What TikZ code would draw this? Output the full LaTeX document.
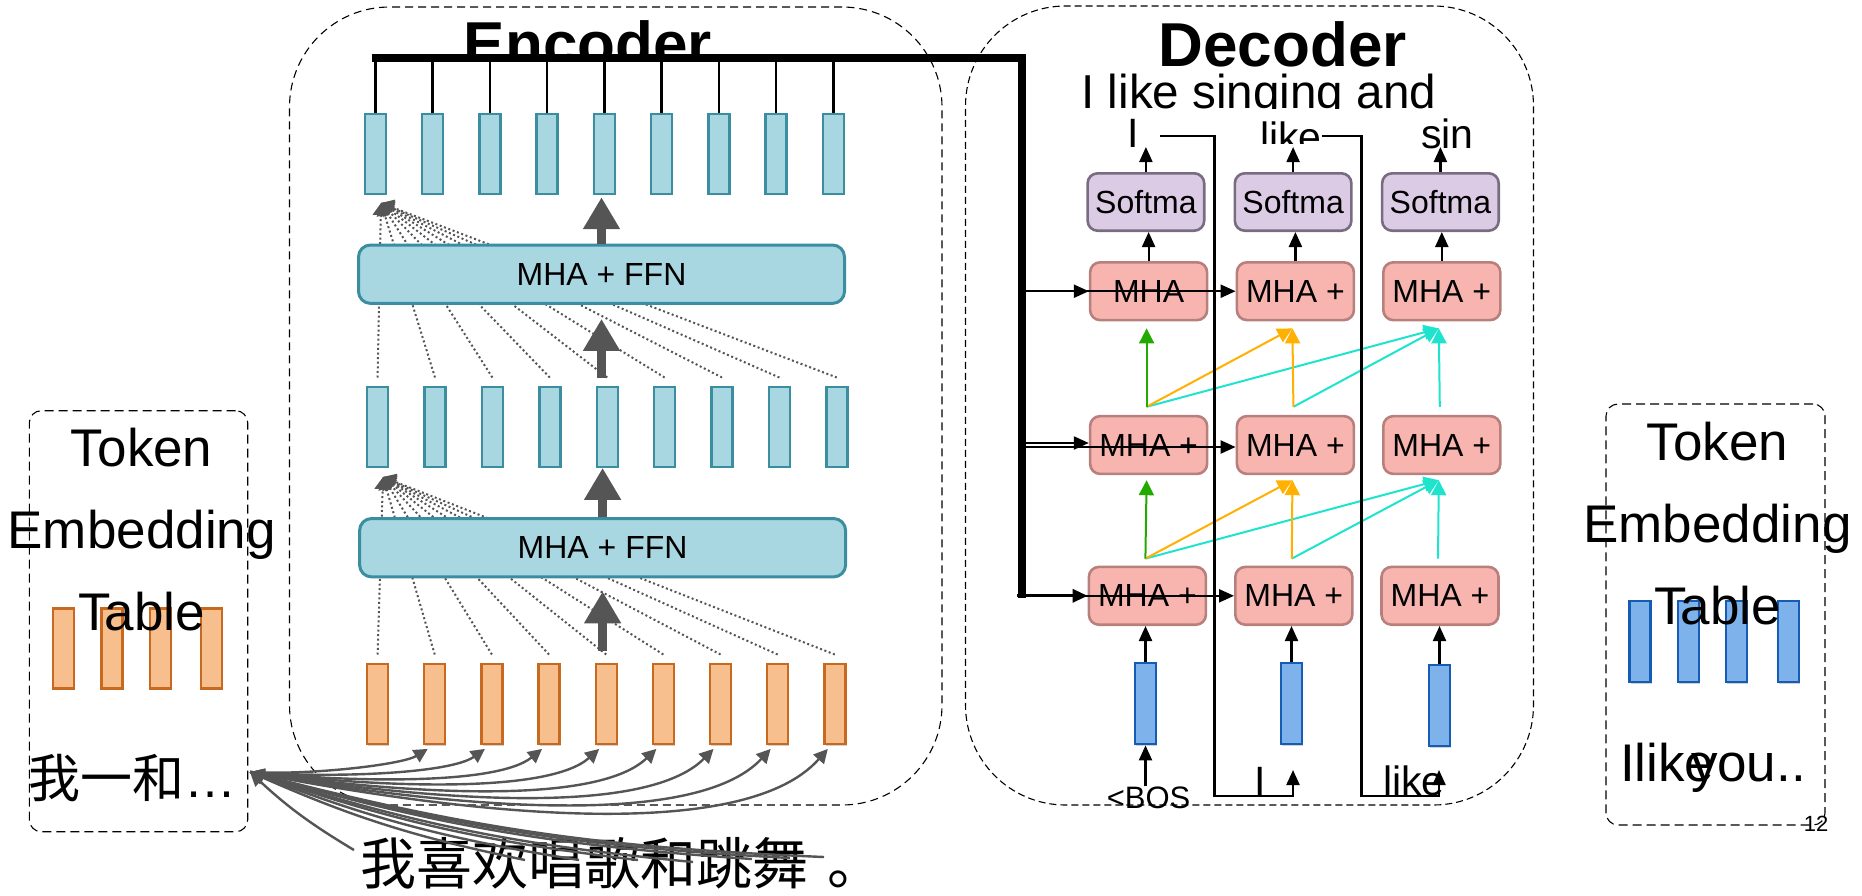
\documentclass[tikz,border=0pt]{standalone}
\usepackage{fontspec}
\setmainfont{Liberation Sans}
\newfontfamily\cjk{Noto Sans CJK SC}
\usetikzlibrary{arrows.meta,calc,shadows}
\newcommand\fsz[1]{\fontsize{#1}{#1}\selectfont}

\definecolor{encfill}{RGB}{168,215,226}
\definecolor{encdraw}{RGB}{58,142,160}
\definecolor{embfill}{RGB}{248,191,142}
\definecolor{embdraw}{RGB}{200,105,32}
\definecolor{decfill}{RGB}{126,178,234}
\definecolor{decdraw}{RGB}{22,92,180}
\definecolor{mhafill}{RGB}{248,181,175}
\definecolor{mhadraw}{RGB}{184,128,124}
\definecolor{smfill}{RGB}{220,203,228}
\definecolor{smdraw}{RGB}{120,108,128}
\definecolor{arrgray}{RGB}{85,85,85}
\definecolor{attgreen}{RGB}{34,170,0}
\definecolor{attorange}{RGB}{255,176,0}
\definecolor{attcyan}{RGB}{30,228,206}

\tikzset{
  grp/.style={draw=black, dash pattern=on 4pt off 2.5pt, line width=0.55pt, rounded corners=50pt, inner sep=0pt},
  tbl/.style={draw=black, dash pattern=on 4.5pt off 2.5pt, line width=0.55pt, rounded corners=6pt, inner sep=0pt},
  barshadow/.style={drop shadow={shadow xshift=0.6pt, shadow yshift=-1pt, opacity=0.18, fill=black}},
  encbar/.style={draw=encdraw, fill=encfill, line width=1.2pt, minimum width=10.5pt, minimum height=40pt, inner sep=0pt},
  embbar/.style={draw=embdraw, fill=embfill, line width=1.2pt, minimum width=10.5pt, minimum height=40pt, inner sep=0pt, barshadow},
  decbar/.style={draw=decdraw, fill=decfill, line width=1.2pt, minimum width=10.5pt, minimum height=40.5pt, inner sep=0pt, barshadow},
  ffn/.style={draw=encdraw, fill=encfill, line width=1.5pt, rounded corners=6pt, minimum width=243pt, minimum height=29.2pt, inner sep=0pt, font=\fsz{16}},
  mha/.style={draw=mhadraw, fill=mhafill, line width=1.3pt, rounded corners=5pt, minimum width=58.5pt, minimum height=28.9pt, inner sep=0pt, font=\fsz{16}},
  sm/.style={draw=smdraw, fill=smfill, line width=1.3pt, rounded corners=5pt, minimum width=58.3pt, minimum height=28.7pt, inner sep=0pt, font=\fsz{16}},
  bigarrow/.style={draw=arrgray, line width=4.3pt, -{Triangle[width=17.5pt,length=16pt]}},
  attn/.style={draw=arrgray, line width=1pt, dash pattern=on 1pt off 1.3pt, -{Triangle[width=8pt,length=6pt]}},
  fan/.style={draw=arrgray, line width=1.2pt, -{Triangle[width=7pt,length=7pt]}},
  blk/.style={draw=black, line width=1.1pt, -{Triangle[width=6.5pt,length=7.5pt]}},
  catt/.style={line width=1pt, -{Triangle[width=7.5pt,length=7.5pt]}},
  txt/.style={inner sep=0pt, outer sep=0pt},
}

\begin{document}
\begin{tikzpicture}[x=0.5pt,y=-0.5pt]
\useasboundingbox (0,0) rectangle (1862,895);

% ---------- group frames ----------
\node[grp, minimum width=326.25pt, minimum height=399pt] (encgrp) at (615.75,406) {};
\node[grp, dash pattern=on 3.5pt off 2pt, minimum width=284pt, minimum height=399.5pt] (decgrp) at (1249.5,405.5) {};
\node[tbl, minimum width=109.2pt, minimum height=210.5pt] (srctbl) at (138.5,621.2) {};
\node[tbl, minimum width=109.5pt, minimum height=210.5pt] (tgttbl) at (1715.5,614.5) {};

% ---------- encoder ----------
\begin{scope}
  \clip (0,0) rectangle (1862,57);
  \node[txt, anchor=base, font=\bfseries\fsz{31}] (enctitle) at (588,65) {Encoder};
\end{scope}

\foreach \k in {1,...,9} {
  \node[encbar] (r1-\k) at ({375.4+57.25*(\k-1)},154) {};
  \node[encbar] (r2-\k) at ({377.6+57.4*(\k-1)},426.7) {};
  \node[embbar] (o\k) at ({377.6+57.15*(\k-1)},703.7) {};
}

% output bus
\coordinate (busL) at (372,58);
\coordinate (busR) at (1022,58);
\coordinate (busB) at (1022,598);
\foreach \k in {1,...,9} \draw[line width=1.2pt] (r1-\k.north) -- (r1-\k.north |- busL);
\draw[line width=4.4pt] (busL) -- (busR) -- (busB);

% attention fans (behind the layer boxes)
\coordinate (apx1) at (381,203);
\coordinate (apx2) at (383,477);
\foreach \k in {1,...,9} {
  \draw[attn] ($(r2-\k.north)+(0,-8)$) -- (apx1);
  \draw[attn] ($(o\k.north)+(0,-8)$) -- (apx2);
}

\node[ffn] (ffn1) at (601.5,274.2) {MHA + FFN};
\node[ffn] (ffn2) at (602.6,547.7) {MHA + FFN};

\draw[bigarrow] (ffn1.north) -- ($(ffn1.north |- r1-5.south)+(0,2)$);
\draw[bigarrow] ($(ffn1.south |- r2-5.north)+(0,-8)$) -- ($(ffn1.south)+(0,14)$);
\draw[bigarrow] (ffn2.north) -- (ffn2.north |- r2-5.south);
\draw[bigarrow] ($(ffn2.south |- o5.north)+(0,-12)$) -- ($(ffn2.south)+(0,13)$);

% ---------- source embedding table ----------
\foreach \k/\x in {1/63.3,2/111.8,3/160.2,4/211.2} \node[embbar] (se\k) at (\x,648.3) {};
\node[txt, anchor=north, align=center, font=\fontsize{26.5}{41}\selectfont] (srclab) at (141.7,428) {Token\\Embedding\\Table};
\node[txt, anchor=base west] (srcseq) at (28,797) {{\cjk\fsz{26}我一和}{\fsz{26}…}};

% source sentence
\node[txt, anchor=base west, font=\cjk\fsz{28}] (zhsent) at (360,884) {我喜欢唱歌和跳舞\hspace{10pt}。};

% lookups
\coordinate (fanapx) at (250,772);
\foreach \k/\ax/\ay/\bx/\by in {2/59.5/3.5/-25.5/15.7, 3/80.9/6.4/-34.7/24.9, 4/103.6/10.6/-44.4/36.1, 5/122/14.7/-52/46.2, 6/143.5/20.3/-61.5/58.9, 7/162.8/26/-69.8/71, 8/181.7/32.5/-77.9/83.8, 9/201.6/40/-86.4/98}
  \draw[fan] (fanapx) .. controls +(\ax,\ay) and +(\bx,\by) .. ($(o\k.south)+(-7,4)$);
\foreach \k/\x/\y in {1/354/850, 2/525/860, 3/579/860, 4/638/860, 5/693/862, 6/752/859, 7/790/858, 8/824/857} {
  \coordinate (zh\k) at (\x,\y);
  \draw[fan] (zh\k) to[bend left=6] (fanapx);
}

% ---------- decoder ----------
\node[txt, anchor=base, font=\bfseries\fsz{31}] (dectitle) at (1282.7,66.7) {Decoder};
\begin{scope}
  \clip (900,70) rectangle (1560,108.5);
  \node[txt, anchor=base west, font=\fsz{23.8}] (outseq) at (1081.5,108) {I like singing and};
\end{scope}
\node[txt, anchor=base, font=\fsz{20.5}] (yI) at (1133,147) {I};
\begin{scope}
  \clip (1200,100) rectangle (1400,143.3);
  \node[txt, anchor=base west, font=\fsz{20.5}] (ylike) at (1260,151) {like};
\end{scope}
\node[txt, anchor=base west, font=\fsz{20.5}] (ysin) at (1421,148.3) {sin};

\foreach \k/\x in {1/1145.9, 2/1293.1, 3/1440.4} \node[sm] (sm\k) at (\x,202) {Softma};
\node[mha] (ma1) at (1148.6,291.2) {MHA};
\node[mha] (ma2) at (1295.4,291.2) {MHA +};
\node[mha] (ma3) at (1441.8,291.2) {MHA +};
\foreach \k/\x in {1/1148.6, 2/1295.4, 3/1441.8} \node[mha] (mb\k) at (\x,445) {MHA +};
\foreach \k/\x in {1/1147.4, 2/1293.8, 3/1440} \node[mha] (mc\k) at (\x,595.8) {MHA +};
\node[decbar] (db1) at (1145.5,703.7) {};
\node[decbar] (db2) at (1291.5,703.7) {};
\node[decbar] (db3) at (1439.5,705.4) {};

\node[txt, anchor=base, font=\fsz{15.5}] (bos) at (1148.6,808) {<BOS};
\node[txt, anchor=base, font=\fsz{20.5}] (xI) at (1260.4,795) {I};
\node[txt, anchor=base west, font=\fsz{20.5}] (xlike) at (1383,795) {like};

% vertical flow
\foreach \k in {1,2,3} {
  \draw[blk] (ma\k.north) -- (ma\k.north |- sm\k.south);
  \draw[blk] (db\k.north) -- (db\k.north |- mc\k.south);
  \draw[blk] (sm\k.north) -- (sm\k.north |- yI.base);
}
\draw[blk] (db1.south |- bos.north) -- (db1.south);

% encoder memory into the decoder layers
\draw[blk] (busB |- ma1.west) -- (ma1.west);
\draw[blk] (busB |- ma2.west) -- (ma2.west);
\draw[blk] ($(busB |- mb1.west)+(0,-2)$) -- ($(mb1.west)+(0,-2)$);
\draw[blk] ($(busB |- mb2.west)+(0,2)$) -- ($(mb2.west)+(0,2)$);
\draw[blk, line width=1.6pt] ($(busB |- mc1.west)+(-5,0)$) -- (mc1.west);
\draw[blk] (busB |- mc2.west) -- (mc2.west);

% causal self-attention between layers
\foreach \lo/\hi/\os/\ts in {b/a/-8/7, c/b/-7/5} {
  \draw[catt, attcyan] ($(m\lo1.north)+(-2,\os)$) -- ($(m\hi3.south)+(-3,\ts)$);
  \draw[catt, attcyan] ($(m\lo2.north)+(-2,\os)$) -- ($(m\hi3.south)+(-3,\ts)$);
  \draw[catt, attcyan] ($(m\lo3.north)+(-2,\os)$) -- ($(m\hi3.south)+(-3,\ts)$);
  \draw[catt, attorange] ($(m\lo1.north)+(-2,\os)$) -- ($(m\hi2.south)+(-3,\ts)$);
  \draw[catt, attorange] ($(m\lo2.north)+(-2,\os)$) -- ($(m\hi2.south)+(-3,\ts)$);
  \draw[catt, attgreen] ($(m\lo1.north)+(-2,\os)$) -- ($(m\hi1.south)+(-2,\ts)$);
}

% previous outputs fed back as inputs
\coordinate (fbA0) at (1160,136);
\coordinate (fbA1) at (1214.5,796);
\coordinate (fbAt) at (1293,770);
\coordinate (fbB0) at (1322,136);
\coordinate (fbB1) at (1361.4,796);
\coordinate (fbBt) at (1439,770);
\draw[blk] (fbA0) -| (fbA1) -| (fbAt);
\draw[blk] (fbB0) -| (fbB1) -| (fbBt);

% ---------- target embedding table ----------
\foreach \k/\x in {1/1640, 2/1688.2, 3/1736.5, 4/1788.2} \node[decbar] (te\k) at (\x,641.2) {};
\node[txt, anchor=north, align=center, font=\fontsize{26.5}{41}\selectfont] (tgtlab) at (1717.5,421.7) {Token\\Embedding\\Table};
\node[txt, anchor=base west, font=\fsz{26.5}] (tgtw1) at (1620,781.7) {Ilike};
\node[txt, anchor=base west, font=\fsz{26.5}] (tgtw2) at (1691,781.7) {you..};
\node[txt, anchor=base, font=\fsz{11}] (pgno) at (1816,831.7) {12};

\end{tikzpicture}
\end{document}
